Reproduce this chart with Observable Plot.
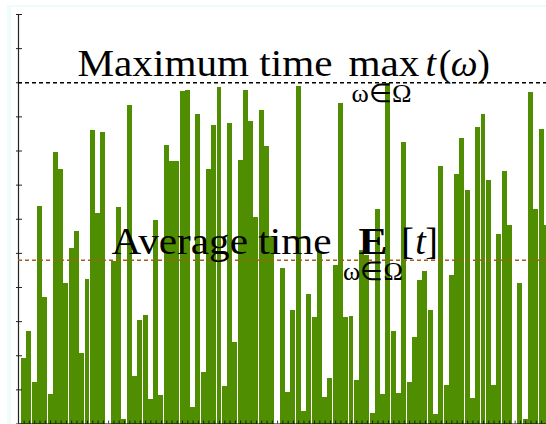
<!DOCTYPE html>
<html>
<head>
<meta charset="utf-8">
<script src="https://cdn.jsdelivr.net/npm/d3@7"></script>
<script src="https://cdn.jsdelivr.net/npm/@observablehq/plot@0.6"></script>
<style>
  html, body { margin: 0; padding: 0; background: #ffffff; overflow: hidden; width: 546px; height: 424px; }
  #chart { position: absolute; left: 0; top: 0; }
  #frame { position: absolute; left: 7px; top: 5px; width: 600px; height: 600px;
           border-left: 4px solid #effcfc; border-top: 2px solid #effcfc; pointer-events: none; }
</style>
</head>
<body>
<div id="chart"></div>
<div id="frame"></div>
<script>
// ---- data ----
const times = [
  1.92, 2.70, 1.21, 6.37, 3.70, 0.87, 7.95, 7.45, 4.12, 5.14,
  5.63, 2.06, 4.23, 8.59, 6.16, 8.54, 0.00, 4.76, 6.34, 0.13,
  9.33, 1.40, 3.03, 3.17, 0.71, 5.96, 0.84, 8.15, 7.70, 7.70,
  9.74, 9.77, 0.48, 9.06, 1.50, 7.45, 8.74, 9.86, 1.10, 8.80,
  2.38, 7.71, 9.77, 8.86, 6.05, 9.18, 8.13, 5.50, 0.00, 4.57,
  0.92, 3.32, 9.88, 0.36, 3.79, 3.12, 5.05, 0.77, 1.33, 4.64,
  9.38, 3.12, 3.14, 1.27, 5.08, 4.94, 0.31, 6.28, 0.87, 9.98,
  2.71, 0.90, 8.25, 1.21, 2.53, 4.20, 4.46, 3.33, 0.28, 7.55,
  1.13, 4.35, 7.30, 8.36, 6.84, 0.74, 8.68, 9.06, 7.13, 1.13,
  5.55, 7.39, 5.81, 0.00, 4.11, 0.13, 9.71, 6.28, 8.62, 5.81
];
const outcomes = times.map((_, i) => i + 1);
const maxTime = 10;
const avgTime = 4.8;
const yTicks = [0, 1, 2, 3, 4, 5, 6, 7, 8, 9, 10, 11, 12];
const maxLabel = ["Maximum time", "max", "t", "(", "ω", ")"];
const avgLabel = ["Average time", "E", "[", "t", "]"];
const subLabel = "ω∈Ω";

// ---- styles ----
const green = "#4f8e00";
const avgColor = "#a65d18";
const serif = "'Liberation Serif', 'Times New Roman', serif";
const xDomain = [-0.07, 101.07];
const textWidths = {"Maximum time": 255, "max": 71, "Average time": 220, "ω∈Ω": 60, "E": 29};

function piece(text, x, y, opts = {}) {
  return Plot.text([text], {
    x: () => x, y: () => y, text: d => d,
    textAnchor: "middle", lineAnchor: "bottom",
    fontFamily: serif, fontSize: 38, fill: "black", dy: -6.3,
    ...opts
  });
}

const plot = Plot.plot({
  width: 552,
  height: 425,
  marginLeft: 18,
  marginRight: 0,
  marginTop: 14,
  marginBottom: 1.5,
  style: {maxWidth: "none", background: "transparent", overflow: "visible"},
  x: {domain: xDomain, axis: null},
  y: {domain: [0, 12], axis: null},
  marks: [
    Plot.rectY(times, {
      x1: (d, i) => outcomes[i] - 0.5,
      x2: (d, i) => outcomes[i] + 0.5,
      y1: 0, y2: d => d,
      fill: green, insetLeft: 0.15, insetRight: 0.15,
      shapeRendering: "crispEdges"
    }),
    Plot.axisX(outcomes, {anchor: "bottom", tickSize: 3, dy: -3, tickFormat: () => "", label: null,
      stroke: "black", strokeOpacity: 0.75}),
    Plot.ruleY([0], {stroke: "black", strokeWidth: 1}),
    Plot.ruleX([xDomain[0]], {stroke: "#222", strokeWidth: 1.2}),
    Plot.axisY(yTicks, {anchor: "left", tickSize: 6, dx: 4, tickFormat: () => "", label: null, stroke: "#222"}),
    Plot.ruleY([maxTime], {stroke: "black", strokeWidth: 1.3, strokeDasharray: "4,3"}),
    Plot.ruleY([avgTime], {stroke: avgColor, strokeWidth: 1.4, strokeDasharray: "4,3"}),
    // maximum label
    piece(maxLabel[0], 35.25, maxTime),
    piece(maxLabel[1], 69.15, maxTime),
    piece(maxLabel[2], 78.04, maxTime, {fontStyle: "italic"}),
    piece(maxLabel[3], 80.73, maxTime),
    piece(maxLabel[4], 84.36, maxTime, {fontStyle: "italic"}),
    piece(maxLabel[5], 88.00, maxTime),
    piece(subLabel, 68.68, maxTime, {fontSize: 26, dy: 19.3}),
    // average label
    piece(avgLabel[0], 38.38, avgTime),
    piece(avgLabel[1], 67.07, avgTime, {fontWeight: "bold"}),
    piece(avgLabel[2], 73.60, avgTime),
    piece(avgLabel[3], 76.07, avgTime, {fontStyle: "italic"}),
    piece(avgLabel[4], 78.15, avgTime),
    piece(subLabel, 67.07, avgTime, {fontSize: 26, dy: 19.3})
  ]
});

d3.select(plot).selectAll("text").each(function () {
  const w = textWidths[this.textContent];
  if (w) {
    this.setAttribute("textLength", w);
    this.setAttribute("lengthAdjust", "spacingAndGlyphs");
  }
});

document.getElementById("chart").appendChild(plot);
</script>
</body>
</html>
